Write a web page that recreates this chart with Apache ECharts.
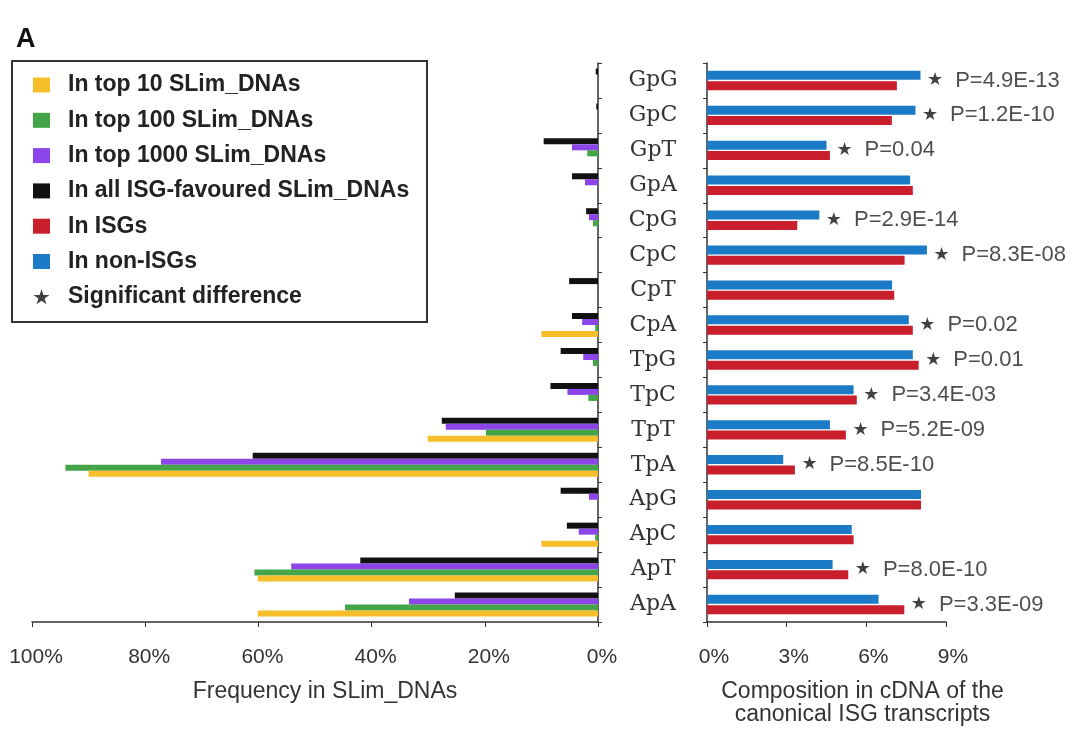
<!DOCTYPE html>
<html>
<head>
<meta charset="utf-8">
<script src="https://cdn.jsdelivr.net/npm/echarts@6/dist/echarts.min.js"></script>
<style>
html,body{margin:0;padding:0;background:#fff;}
#chart{width:1077px;height:732px;}
</style>
</head>
<body>
<div id="chart"></div>
<script>
const categories = ['GpG','GpC','GpT','GpA','CpG','CpC','CpT','CpA','TpG','TpC','TpT','TpA','ApG','ApC','ApT','ApA'];
// Left panel: frequency in SLim_DNAs (%)
const top10 =   [0, 0, 0, 0, 0, 0, 0, 10.0, 0, 0, 30.1, 90.0, 0, 10.0, 60.1, 60.1];
const top100 =  [0, 0, 1.9, 0, 0.9, 0, 0, 0.5, 0.9, 1.7, 19.8, 94.1, 0, 0.5, 60.7, 44.7];
const top1000 = [0, 0, 4.6, 2.3, 1.6, 0, 0, 2.8, 2.6, 5.4, 26.9, 77.2, 1.6, 3.4, 54.2, 33.4];
const allISG =  [0.4, 0.3, 9.6, 4.6, 2.1, 0, 5.1, 4.6, 6.6, 8.4, 27.6, 61.0, 6.6, 5.5, 42.0, 25.3];
// Right panel: composition in cDNA (%)
const nonISGs = [8.04, 7.85, 4.50, 7.65, 4.23, 8.28, 6.97, 7.60, 7.75, 5.52, 4.63, 2.87, 8.06, 5.45, 4.73, 6.46];
const ISGs =    [7.15, 6.96, 4.63, 7.75, 3.40, 7.44, 7.05, 7.75, 7.97, 5.64, 5.23, 3.31, 8.06, 5.52, 5.32, 7.43];
const pValues = ['4.9E-13','1.2E-10','0.04','','2.9E-14','8.3E-08','','0.02','0.01','3.4E-03','5.2E-09','8.5E-10','','','8.0E-10','3.3E-09'];
const leftTicks = {min: 0, max: 100, interval: 20};
const rightTicks = {min: 0, max: 9, interval: 3};

const C = {yellow:'#F7BE2C', green:'#43A547', purple:'#8C45E8', black:'#111111', red:'#C91F2C', blue:'#1B7BC6'};
const starPath = 'path://M50,0 L61.8,35.1 L99,35.1 L68.8,56.7 L80.3,91.9 L50,70.2 L19.7,91.9 L31.2,56.7 L1,35.1 L38.2,35.1 Z';
const sqPath = 'path://M0,0 L17,0 L17,15 L0,15 Z';

const sigData = categories.map((c, i) => pValues[i] ? {value: Math.max(nonISGs[i], ISGs[i]), p: pValues[i]} : '-');

const chart = echarts.init(document.getElementById('chart'));
const font = "'Liberation Sans', Arial, sans-serif";
const axisCol = '#333';

const option = {
  backgroundColor: '#fff',
  animation: false,
  textStyle: {fontFamily: font},
  title: {text: 'A', left: 11, top: 21, textStyle: {fontSize: 27, fontWeight: 'bold', color: '#111', fontFamily: font}},
  graphic: [{type: 'rect', shape: {x: 12, y: 61, width: 415, height: 261}, style: {fill: 'none', stroke: '#333', lineWidth: 2}, z: 10}],
  legend: {
    orient: 'vertical', left: 33, top: 73, padding: 0,
    itemWidth: 17, itemHeight: 15, itemGap: 11.3,
    textStyle: {fontSize: 23, fontWeight: 'bold', color: '#222', fontFamily: font, lineHeight: 24, padding: [0,0,0,13]},
    data: [
      {name: 'In top 10 SLim_DNAs', icon: sqPath},
      {name: 'In top 100 SLim_DNAs', icon: sqPath},
      {name: 'In top 1000 SLim_DNAs', icon: sqPath},
      {name: 'In all ISG-favoured SLim_DNAs', icon: sqPath},
      {name: 'In ISGs', icon: sqPath},
      {name: 'In non-ISGs', icon: sqPath},
      {name: 'Significant difference', icon: starPath, itemStyle: {color: '#111'}}
    ]
  },
  grid: [
    {left: 32, right: 479, top: 63, bottom: 110},
    {left: 707, right: 131, top: 63, bottom: 110}
  ],
  xAxis: [
    {gridIndex: 0, type: 'value', min: leftTicks.min, max: leftTicks.max, interval: leftTicks.interval, inverse: true,
     axisLine: {show: true, lineStyle: {color: axisCol, width: 1.5}},
     axisTick: {show: true, length: 5, lineStyle: {color: axisCol}},
     splitLine: {show: false},
     axisLabel: {formatter: '{value}%', fontSize: 21, color: '#333', margin: 25, fontFamily: font, padding: [0,0,0,8]},
     name: 'Frequency in SLim_DNAs', nameLocation: 'middle', nameGap: 58,
     nameTextStyle: {fontSize: 23, color: '#333', fontFamily: font, padding: [0,0,0,20]}},
    {gridIndex: 1, type: 'value', min: rightTicks.min, max: rightTicks.max, interval: rightTicks.interval,
     axisLine: {show: true, lineStyle: {color: axisCol, width: 1.5}},
     axisTick: {show: true, length: 5, lineStyle: {color: axisCol}},
     splitLine: {show: false},
     axisLabel: {formatter: '{value}%', fontSize: 21, color: '#333', margin: 25, fontFamily: font, padding: [0,0,0,14]},
     name: 'Composition in cDNA of the\ncanonical ISG transcripts', nameLocation: 'middle', nameGap: 58,
     nameTextStyle: {fontSize: 23, color: '#333', fontFamily: font, lineHeight: 23, padding: [0,0,0,72]}}
  ],
  yAxis: [
    {gridIndex: 0, type: 'category', data: categories, inverse: true, position: 'right',
     axisLine: {show: true, lineStyle: {color: axisCol, width: 1.5}},
     axisTick: {show: true, length: 4, lineStyle: {color: axisCol}},
     axisLabel: {show: false}},
    {gridIndex: 1, type: 'category', data: categories, inverse: true, position: 'left',
     axisLine: {show: true, lineStyle: {color: axisCol, width: 1.5}},
     axisTick: {show: true, length: 4, lineStyle: {color: axisCol}},
     axisLabel: {show: true, align: 'center', margin: 54, fontSize: 22, color: '#333', fontFamily: "'DejaVu Serif', serif"}}
  ],
  series: [
    {name: 'In all ISG-favoured SLim_DNAs', type: 'bar', xAxisIndex: 0, yAxisIndex: 0, data: allISG, barWidth: 6, barGap: '0%', itemStyle: {color: C.black}},
    {name: 'In top 1000 SLim_DNAs', type: 'bar', xAxisIndex: 0, yAxisIndex: 0, data: top1000, barWidth: 6, barGap: '0%', itemStyle: {color: C.purple}},
    {name: 'In top 100 SLim_DNAs', type: 'bar', xAxisIndex: 0, yAxisIndex: 0, data: top100, barWidth: 6, barGap: '0%', itemStyle: {color: C.green}},
    {name: 'In top 10 SLim_DNAs', type: 'bar', xAxisIndex: 0, yAxisIndex: 0, data: top10, barWidth: 6, barGap: '0%', itemStyle: {color: C.yellow}},
    {name: 'In non-ISGs', type: 'bar', xAxisIndex: 1, yAxisIndex: 1, data: nonISGs, barWidth: 9, barGap: '15%', itemStyle: {color: C.blue}},
    {name: 'In ISGs', type: 'bar', xAxisIndex: 1, yAxisIndex: 1, data: ISGs, barWidth: 9, barGap: '15%', itemStyle: {color: C.red}},
    {name: 'Significant difference', type: 'scatter', xAxisIndex: 1, yAxisIndex: 1, symbol: 'circle', symbolSize: 1, data: sigData,
     itemStyle: {color: 'rgba(0,0,0,0)'},
     label: {show: true, position: 'right', distance: 6, color: '#111',
       formatter: p => '{s|★}{t|P=' + p.data.p + '}',
       rich: {s: {fontSize: 18, color: '#111', fontFamily: "'DejaVu Sans', sans-serif"},
              t: {fontSize: 22, color: '#222', fontFamily: font, padding: [0,0,0,12]}}}}
  ]
};
chart.setOption(option);
</script>
</body>
</html>
